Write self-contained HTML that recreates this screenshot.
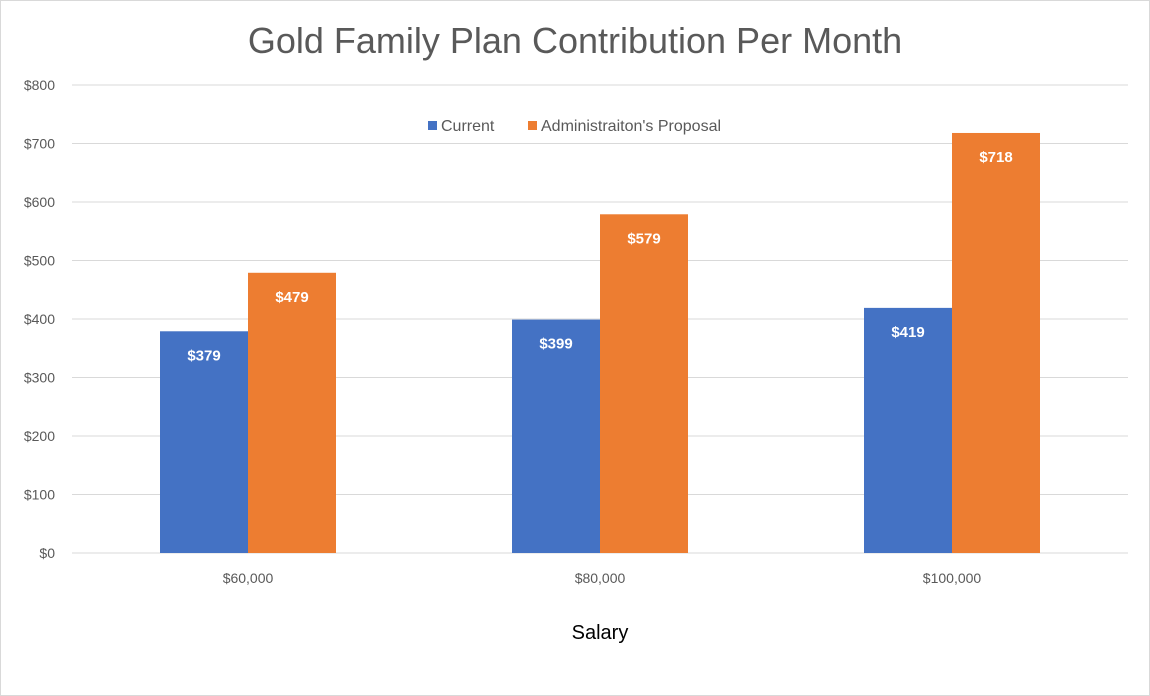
<!DOCTYPE html>
<html><head><meta charset="utf-8"><style>
html,body{margin:0;padding:0;background:#fff;}
svg{display:block;font-family:"Liberation Sans",sans-serif;}
</style></head><body>
<svg id="chart" width="1150" height="696" xmlns="http://www.w3.org/2000/svg">
<rect x="0.5" y="0.5" width="1149" height="695" fill="#fff" stroke="#d9d9d9"/>
<text x="575" y="53" text-anchor="middle" font-size="36" fill="#595959">Gold Family Plan Contribution Per Month</text>
<g id="grid"></g>
<g id="yticks"></g>
<g id="bars"></g>
<g id="xticks"></g>
<g>
<rect x="428" y="121" width="9" height="9" fill="#4472c4"/>
<text x="441" y="131" font-size="16" fill="#595959">Current</text>
<rect x="528" y="121" width="9" height="9" fill="#ed7d31"/>
<text x="541" y="131" font-size="16" fill="#595959">Administraiton's Proposal</text>
</g>
<text x="600" y="639" text-anchor="middle" font-size="20" fill="#000">Salary</text>
</svg>
<script>
const categories = ["$60,000","$80,000","$100,000"];
const currentValues = [379,399,419];
const proposalValues = [479,579,718];
const yTicks = [0,100,200,300,400,500,600,700,800];
const NS="http://www.w3.org/2000/svg";
const x0=72,x1=1128,yBase=553,yTop=85,yMax=800;
const yS=v=>yBase-(v/yMax)*(yBase-yTop);
const bw=(x1-x0)/categories.length;
function mk(tag,attrs,parent){const e=document.createElementNS(NS,tag);for(const k in attrs)e.setAttribute(k,attrs[k]);parent.appendChild(e);return e;}
const grid=document.getElementById('grid'),yt=document.getElementById('yticks'),bars=document.getElementById('bars'),xt=document.getElementById('xticks');
yTicks.forEach(t=>{
  const l=mk('line',{x1:x0,x2:x1,y1:yS(t),y2:yS(t),stroke:'#d9d9d9','stroke-width':1},grid);
  
  
  const tx=mk('text',{x:55,y:yS(t)+5,'text-anchor':'end','font-size':14,fill:'#595959'},yt);
  tx.textContent='$'+t;
  
  
});
categories.forEach((c,i)=>{
  const cx=x0+bw*(i+0.5);
  [[currentValues[i],'#4472c4',cx-88,'current'],[proposalValues[i],'#ed7d31',cx,'proposal']].forEach(([v,col,bx,nm])=>{
    const r=mk('rect',{x:bx,y:yS(v),width:88,height:yBase-yS(v),fill:col},bars);
    
    
    const lb=mk('text',{x:bx+44,y:yS(v)+29,'text-anchor':'middle','font-size':15,'font-weight':'bold',fill:'#fff'},bars);
    lb.textContent='$'+v;
    
    
  });
  const tx=mk('text',{x:cx,y:583,'text-anchor':'middle','font-size':14,fill:'#595959'},xt);
  tx.textContent=c;
  
  
});
</script>
</body></html>
